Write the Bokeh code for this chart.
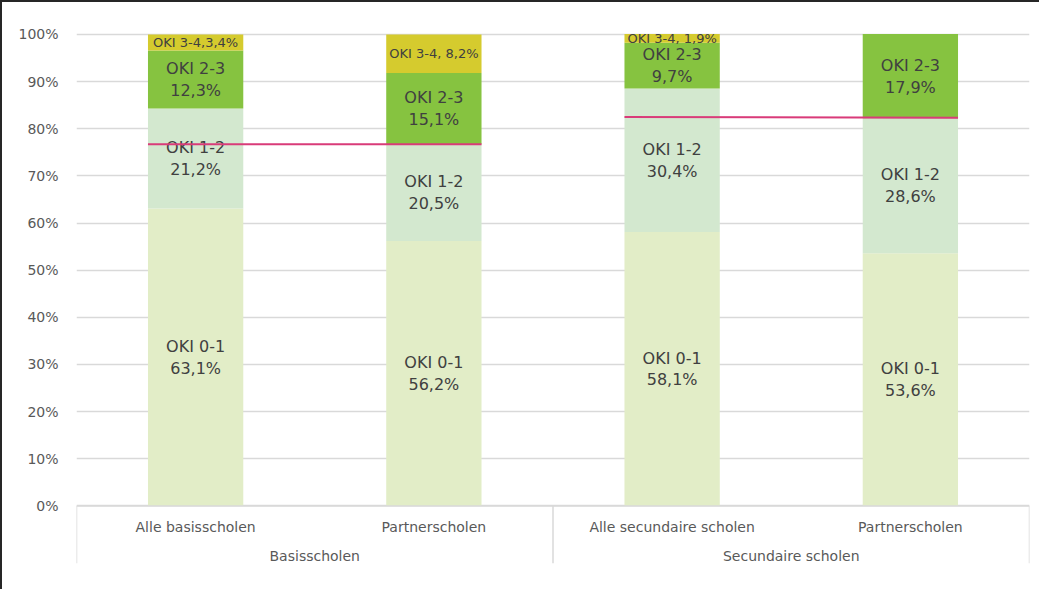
from bokeh.plotting import figure
from bokeh.models import ColumnDataSource, Range1d, FixedTicker
from bokeh.embed import file_html
from bokeh.resources import INLINE
from bokeh.core.properties import value

# ---- data ----
subcats = ["Alle basisscholen", "Partnerscholen", "Alle secundaire scholen", "Partnerscholen"]
groups = ["Basisscholen", "Secundaire scholen"]
group_sizes = [2, 2]
series = ["OKI 0-1", "OKI 1-2", "OKI 2-3", "OKI 3-4"]
oki_01 = [63.1, 56.2, 58.1, 53.6]
oki_12 = [21.2, 20.5, 30.4, 28.6]
oki_23 = [12.3, 15.1, 9.7, 17.9]
oki_34 = [3.4, 8.2, 1.9, 0.0]
ref_basis = [76.7, 76.7]          # reference line over the Basisscholen group
ref_secundair = [82.5, 82.3]      # reference line over the Secundaire scholen group
y_ticks = [0, 10, 20, 30, 40, 50, 60, 70, 80, 90, 100]
y_tick_labels = ["0%", "10%", "20%", "30%", "40%", "50%", "60%", "70%", "80%", "90%", "100%"]

colors = ["#E2EDC7", "#D3E8CF", "#86C340", "#D5CB2E"]
ref_color = "#D93B79"
grid_color = "#D9D9D9"
text_color = "#404040"
axis_text_color = "#595959"
FONT = "DejaVu Sans"
BAR_W = 0.4

n = len(subcats)
xs = [i + 0.5 for i in range(n)]
values = [oki_01, oki_12, oki_23, oki_34]

p = figure(width=1039, height=589, output_backend="svg", toolbar_location=None,
           x_range=Range1d(0, n), y_range=Range1d(-12.2, 100.4),
           min_border_left=74, min_border_right=12, min_border_top=30, min_border_bottom=28)
p.styles = {"border-left": "2px solid #262626", "border-top": "2px solid #262626"}
p.outline_line_color = None
p.xaxis.visible = False
p.xgrid.visible = False
p.ygrid.grid_line_color = grid_color
p.ygrid.grid_line_width = 1.5
p.yaxis.ticker = FixedTicker(ticks=y_ticks)
p.yaxis.major_label_overrides = {t: l for t, l in zip(y_ticks, y_tick_labels)}
p.yaxis.axis_line_color = None
p.yaxis.major_tick_line_color = None
p.yaxis.minor_tick_line_color = None
p.yaxis.major_label_standoff = 12
p.yaxis.major_label_text_font = FONT
p.yaxis.major_label_text_font_size = "14px"
p.yaxis.major_label_text_color = axis_text_color

# ---- stacked bars ----
src = ColumnDataSource(dict(x=xs, **{s: v for s, v in zip(series, values)}))
p.vbar_stack(series, x="x", width=BAR_W, color=colors, source=src, line_color=None)

# ---- labels inside segments ----
lab_x, lab_y, lab_t = [], [], []
small_x, small_y, small_t = [], [], []
for i in range(n):
    base = 0.0
    for k, s in enumerate(series):
        v = values[k][i]
        mid = base + v / 2
        base += v
        if v <= 0:
            continue
        pct = f"{v:.1f}".replace(".", ",") + "%"
        if s == "OKI 3-4":
            sep = "," if i == 0 else ", "
            small_x.append(xs[i]); small_y.append(mid); small_t.append(f"{s}{sep}{pct}")
        else:
            lab_x.append(xs[i]); lab_y.append(mid); lab_t.append(f"{s}\n{pct}")

p.text(x=lab_x, y=lab_y, text=lab_t, text_align="center", text_baseline="middle",
       text_font=value(FONT), text_font_size="16px", text_color=text_color,
       text_line_height=1.15)
p.text(x=small_x, y=small_y, text=small_t, text_align="center", text_baseline="middle",
       text_font=value(FONT), text_font_size="13px", text_color=text_color)

# ---- reference lines ----
p.line(x=[xs[0] - BAR_W / 2, xs[1] + BAR_W / 2], y=ref_basis, line_color=ref_color, line_width=2)
p.line(x=[xs[2] - BAR_W / 2, xs[3] + BAR_W / 2], y=ref_secundair, line_color=ref_color, line_width=2)

# ---- two-level category axis ----
y_bottom = -12.2
p.segment(x0=[0], y0=[0], x1=[n], y1=[0], line_color=grid_color, line_width=1.5)
bounds = [0]
for g in group_sizes:
    bounds.append(bounds[-1] + g)
p.segment(x0=bounds, y0=[0] * len(bounds), x1=bounds, y1=[y_bottom] * len(bounds),
          line_color=grid_color, line_width=1.5)
p.text(x=xs, y=[-4.4] * n, text=subcats, text_align="center", text_baseline="middle",
       text_font=value(FONT), text_font_size="14px", text_color=axis_text_color)
group_x = [(bounds[j] + bounds[j + 1]) / 2 for j in range(len(groups))]
p.text(x=group_x, y=[-10.6] * len(groups), text=groups, text_align="center", text_baseline="middle",
       text_font=value(FONT), text_font_size="14px", text_color=axis_text_color)

open("out.html", "w").write(file_html(p, INLINE))
